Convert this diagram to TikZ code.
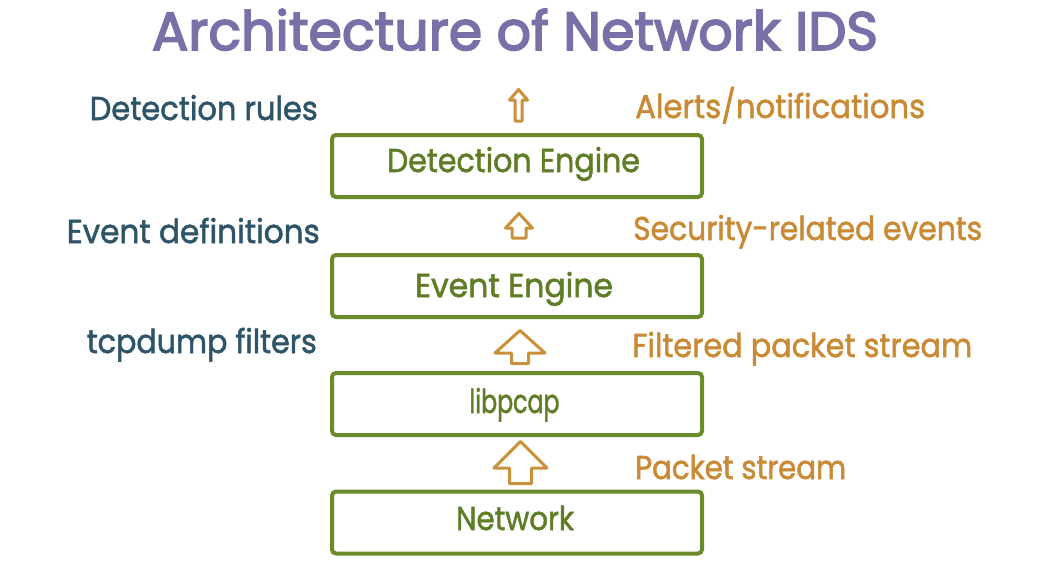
\documentclass[tikz,border=0pt]{standalone}
\usepackage{fontspec}
\setmainfont{Poppins}[FakeBold=1.6]
\newfontfamily\titlefont{Poppins}[FakeBold=3]
\usepackage{graphicx}
\newcommand\fw[2]{\resizebox{#1}{\height}{#2}}
\definecolor{titlecol}{RGB}{122,112,168}
\definecolor{leftcol}{RGB}{46,84,104}
\definecolor{rightcol}{RGB}{201,138,53}
\definecolor{boxcol}{RGB}{107,138,42}
\definecolor{boxtext}{RGB}{95,125,38}
\definecolor{arrcol}{RGB}{201,145,58}
\tikzset{
  title/.style={font=\titlefont\fontsize{54}{60}\selectfont, text=titlecol, inner sep=0pt, anchor=base},
  leftlab/.style={font=\fontsize{33}{38}\selectfont, text=leftcol, inner sep=0pt, anchor=base east},
  rightlab/.style={font=\fontsize{33}{38}\selectfont, text=rightcol, inner sep=0pt, anchor=base west},
  layerbox/.style={draw=boxcol, line width=4pt, rounded corners=4pt, minimum width=370pt, minimum height=62pt, inner sep=0pt},
  boxlab/.style={font=\fontsize{33}{38}\selectfont, text=boxtext, inner sep=0pt, anchor=base},
  blockarr/.style={draw=arrcol, line width=3pt, line join=round, fill=white}
}
\newcommand\blockup[7]{% cx, tip, base, bottom, headhalf, shafthalf, name
  \draw[blockarr] (#1,#2) coordinate (#7)
     -- ({#1+#5},#3) -- ({#1+#6},#3) -- ({#1+#6},#4)
     -- ({#1-#6},#4) -- ({#1-#6},#3) -- ({#1-#5},#3) -- cycle;}
\begin{document}
\begin{tikzpicture}[x=1pt,y=-1pt]
\useasboundingbox[fill=white] (0,0) rectangle (1046,582);

% title
\node[title] (ttl) at (515,50) {\fw{726pt}{Architecture of Network IDS}};

% layer boxes
\node[layerbox] (det) at (517,166) {};
\node[layerbox] (evt) at (517,286) {};
\node[layerbox] (pcap) at (517,404) {};
\node[layerbox] (net) at (517,522.5) {};

% box texts
\node[boxlab] (detT) at (513.5,172) {\fw{253pt}{Detection Engine}};
\node[boxlab] (evtT) at (514,297) {\fw{198pt}{Event Engine}};
\node[boxlab] (pcapT) at (514.5,413) {\fw{90pt}{libpcap}};
\node[boxlab] (netT) at (515,530) {\fw{118pt}{Network}};

% block arrows
\blockup{518.5}{89.5}{100}{121}{9}{3.5}{a1}
\blockup{519}{213.5}{228}{238}{13.5}{7}{a2}
\blockup{520}{330.5}{353}{363.5}{25}{8.5}{a3}
\blockup{520.5}{441.5}{468}{483.5}{26.5}{11}{a4}

% left labels
\node[leftlab] (rules) at (318,120) {\fw{228pt}{Detection rules}};
\node[leftlab] (defs) at (320,243) {\fw{253pt}{Event definitions}};
\node[leftlab] (filt) at (317,353) {\fw{230pt}{tcpdump filters}};

% right labels
\node[rightlab] (alerts) at (635,118) {\fw{290pt}{Alerts/notifications}};
\node[rightlab] (sec) at (633,240) {\fw{349pt}{Security-related events}};
\node[rightlab] (fps) at (632,357) {\fw{340pt}{Filtered packet stream}};
\node[rightlab] (ps) at (635,479) {\fw{211pt}{Packet stream}};
\end{tikzpicture}
\end{document}
